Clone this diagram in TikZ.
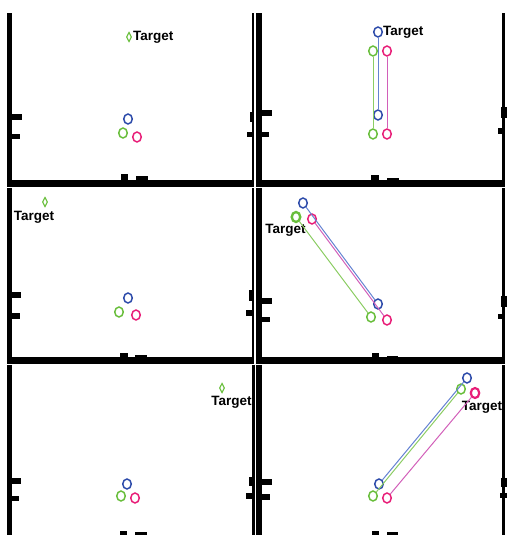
\documentclass[tikz,border=0pt]{standalone}
\usepackage{fontspec}
\setmainfont{Liberation Sans}
\usetikzlibrary{shapes.geometric}

\definecolor{ptblue}{RGB}{45,75,170}
\definecolor{ptgreen}{RGB}{105,190,60}
\definecolor{ptpink}{RGB}{232,30,120}
\definecolor{lnblue}{RGB}{100,130,210}
\definecolor{lngreen}{RGB}{140,205,100}
\definecolor{lnpink}{RGB}{210,95,185}

\tikzset{
  pt/.style={draw, ellipse, inner sep=0pt, minimum width=8.5pt, minimum height=10pt, line width=1.5pt},
  goal/.style={draw=ptgreen, diamond, aspect=0.5, inner sep=0pt, minimum width=5pt, minimum height=9.5pt, line width=1.1pt},
  lbl/.style={font=\fontsize{13.5}{14}\selectfont\bfseries, inner sep=0pt},
  trail/.style={line width=1pt}
}

\begin{document}
\begin{tikzpicture}[x=1pt,y=-1pt]
\useasboundingbox (0,0) rectangle (507,535);

% frames
\foreach \xl/\wl/\xr/\wr/\ytop/\ybot in {7/5/252/2/13/187, 256/6/502/3/13/187, 7/5/252/2/188/364, 256/6/502/3/188/364, 7/5/252/3/365/535, 256/6/502/3/365/535} {
    \fill (\xl,\ytop) rectangle (\xl+\wl,\ybot);
    \fill (\xr,\ytop) rectangle (\xr+\wr,\ybot);
}
\fill (7,180) rectangle (254,187);
\fill (256,180) rectangle (505,187);
\fill (7,357) rectangle (254,364);
\fill (256,357) rectangle (505,364);

% ticks
\foreach \xa/\ya/\xb/\yb in {12/114/22/120, 12/134/20/139, 262/110/272/116, 262/132/269/137,
    12/292/21/298, 12/313/20/319, 262/298/272/304, 262/317/270/322,
    12/478/21/484, 12/496/19/501, 262/479/272/485, 262/494/270/500,
    250/112/254/122, 247/132/254/137, 501/107/507/118, 498/128/505/134,
    249/290/254/301, 246/310/254/316, 501/296/507/307, 498/314/505/319,
    249/477/254/486, 246/493/254/499, 501/478/507/487, 500/493/507/498,
    121/174/128/180, 136/176/148/180, 371/175/379/180, 387/178/399/180,
    120/353/128/357, 135/355/147/357, 372/353/379/357, 387/356/398/357,
    120/531/127/535, 135/532/147/535, 372/531/379/535, 387/532/398/535} {
    \fill (\xa,\ya) rectangle (\xb,\yb);
}

% panel 1
\node[pt, ptblue] (b1) at (128,119) {};
\node[pt, ptgreen] (g1) at (123,133) {};
\node[pt, ptpink] (p1) at (137,137) {};
\node[goal] (t1) at (129,37) {};
\node[lbl, anchor=west] (l1) at (133,37) {Target};

% panel 2
\node[pt, ptblue] (b2s) at (378,115) {};
\node[pt, ptgreen] (g2s) at (373,134) {};
\node[pt, ptpink] (p2s) at (387,134) {};
\node[pt, ptblue] (b2e) at (378,32) {};
\node[pt, ptgreen] (g2e) at (373,51) {};
\node[pt, ptpink] (p2e) at (387,51) {};
\node[lbl, anchor=west] (l2) at (383,32) {Target};
\draw[trail, lnblue] (b2s) -- (b2e);
\draw[trail, lngreen] (g2s) -- (g2e);
\draw[trail, lnpink] (p2s) -- (p2e);

% panel 3
\node[pt, ptblue] (b3) at (128,298) {};
\node[pt, ptgreen] (g3) at (119,312) {};
\node[pt, ptpink] (p3) at (136,315) {};
\node[goal] (t3) at (45,202) {};
\node[lbl] (l3) at (34,217) {Target};

% panel 4
\node[pt, ptblue] (b4s) at (378,304) {};
\node[pt, ptgreen] (g4s) at (371,317) {};
\node[pt, ptpink] (p4s) at (387,320) {};
\node[pt, ptblue] (b4e) at (303,203) {};
\node[pt, ptgreen, line width=2.4pt] (g4e) at (296,217) {};
\node[pt, ptpink] (p4e) at (312,219) {};
\node[lbl] (l4) at (285.5,230) {Target};
\draw[trail, lnblue] (b4s) -- (b4e);
\draw[trail, lngreen] (g4s) -- (g4e);
\draw[trail, lnpink] (p4s) -- (p4e);

% panel 5
\node[pt, ptblue] (b5) at (127,484) {};
\node[pt, ptgreen] (g5) at (121,496) {};
\node[pt, ptpink] (p5) at (135,498) {};
\node[goal] (t5) at (222,388) {};
\node[lbl] (l5) at (231.5,402) {Target};

% panel 6
\node[pt, ptblue] (b6s) at (379,484) {};
\node[pt, ptgreen] (g6s) at (373,496) {};
\node[pt, ptpink] (p6s) at (387,498) {};
\node[pt, ptblue] (b6e) at (467,378) {};
\node[pt, ptgreen] (g6e) at (461,389) {};
\node[pt, ptpink, line width=2.2pt] (p6e) at (475,393) {};
\node[lbl] (l6) at (482,407) {Target};
\draw[trail, lnblue] (b6s) -- (b6e);
\draw[trail, lngreen] (g6s) -- (g6e);
\draw[trail, lnpink] (p6s) -- (p6e);

\end{tikzpicture}
\end{document}
